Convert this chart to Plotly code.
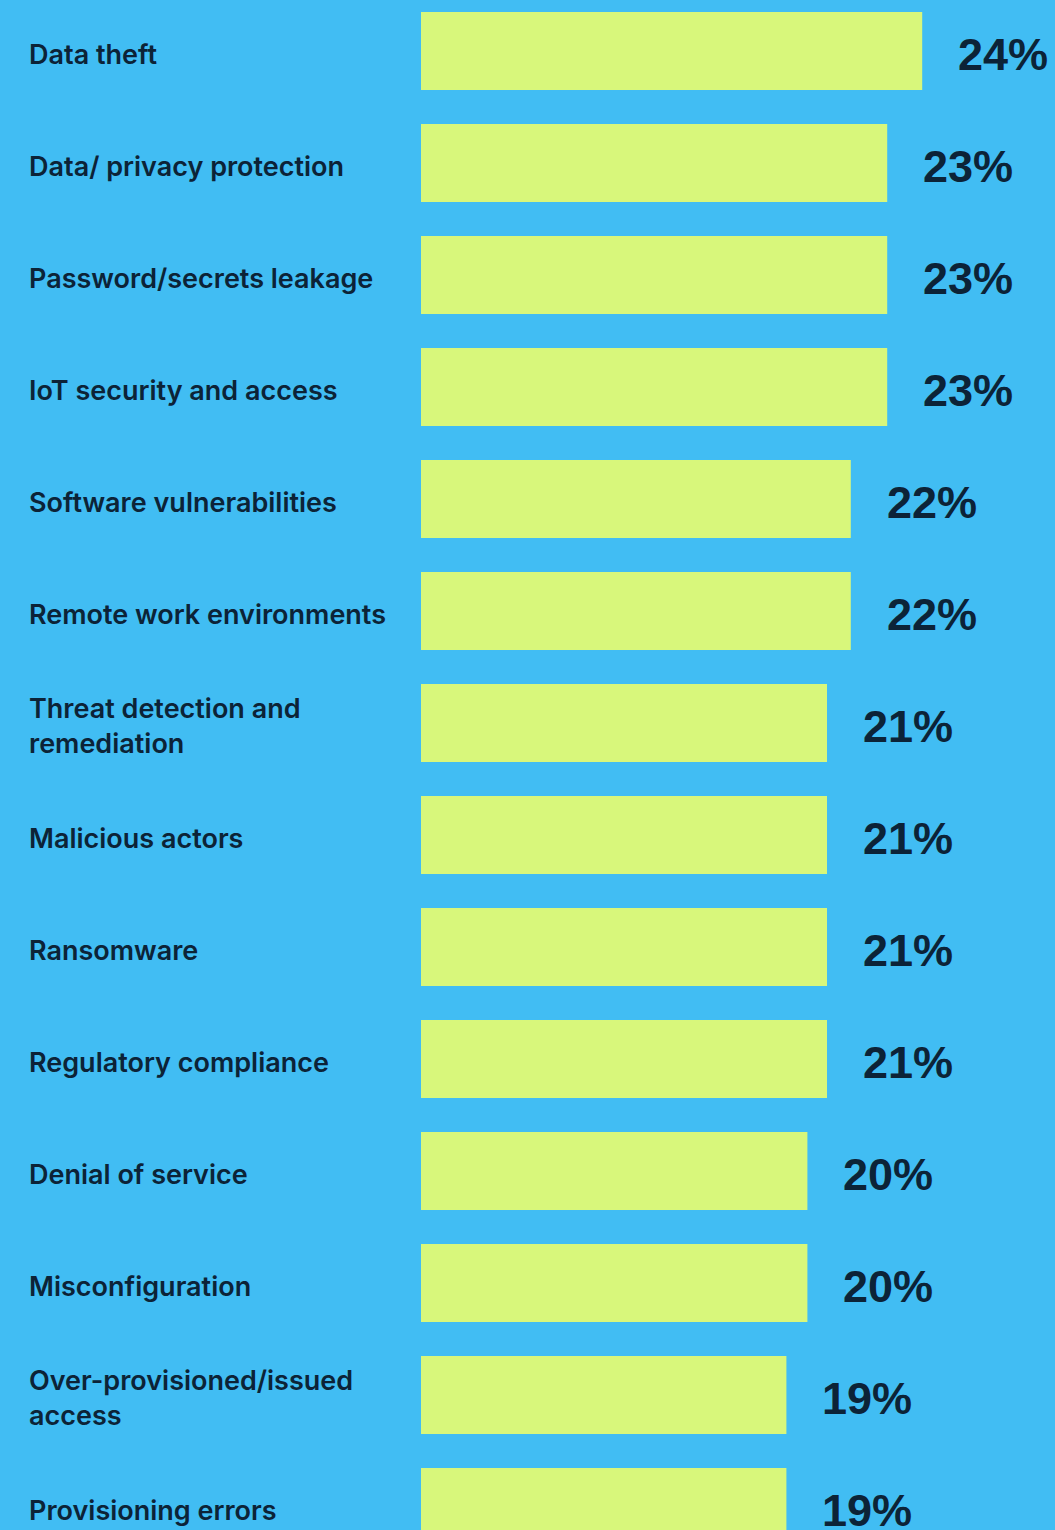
import plotly.graph_objects as go

categories = [
    "Data theft",
    "Data/ privacy protection",
    "Password/secrets leakage",
    "IoT security and access",
    "Software vulnerabilities",
    "Remote work environments",
    "Threat detection and<br>remediation",
    "Malicious actors",
    "Ransomware",
    "Regulatory compliance",
    "Denial of service",
    "Misconfiguration",
    "Over-provisioned/issued<br>access",
    "Provisioning errors",
]
values = [24.2, 22.95, 22.95, 22.95, 21.65, 21.65, 20.8, 20.8, 20.8, 20.8, 20.1, 20.1, 19.35, 19.35]
labels = [f"{round(v)}%" for v in values]

BG = "#41BDF3"
BAR = "#D8F77B"
TXT = "#0C2337"

W, H = 1055, 1530
L = 421
idx = list(range(len(categories)))

fig = go.Figure()
fig.add_trace(go.Bar(
    x=values, y=idx, orientation="h",
    marker=dict(color=BAR, line=dict(width=0)),
    width=0.696, hoverinfo="skip",
))

annotations = []
for i, (c, v, t) in enumerate(zip(categories, values, labels)):
    annotations.append(dict(
        x=(27 - L) / (W - L), xref="paper", y=i, yref="y",
        text=c, showarrow=False, xanchor="left", yanchor="middle", align="left",
        yshift=-3,
        font=dict(family="Inter", size=27, color=TXT, weight=600),
    ))
    annotations.append(dict(
        x=v, xref="x", y=i, yref="y", text=t, showarrow=False,
        xanchor="left", yanchor="middle", xshift=34, yshift=-3,
        font=dict(family="Liberation Sans", size=45, color=TXT, weight="bold"),
    ))

x0 = 6.3
k = 28.0
fig.update_layout(
    width=W, height=H,
    margin=dict(l=L, r=0, t=0, b=0),
    paper_bgcolor=BG, plot_bgcolor=BG,
    showlegend=False,
    xaxis=dict(range=[x0, x0 + (W - L) / k], visible=False, fixedrange=True),
    yaxis=dict(range=[-0.4554 + H / 112, -0.4554], visible=False, fixedrange=True),
    annotations=annotations,
)

fig.write_html("out.html", config={"displayModeBar": False})

with open("out.html", "r", encoding="utf-8") as f:
    html = f.read()
html = html.replace("<head>", "<head><style>html,body{margin:0;padding:0;overflow:hidden;background:%s}</style>" % BG, 1)
with open("out.html", "w", encoding="utf-8") as f:
    f.write(html)
